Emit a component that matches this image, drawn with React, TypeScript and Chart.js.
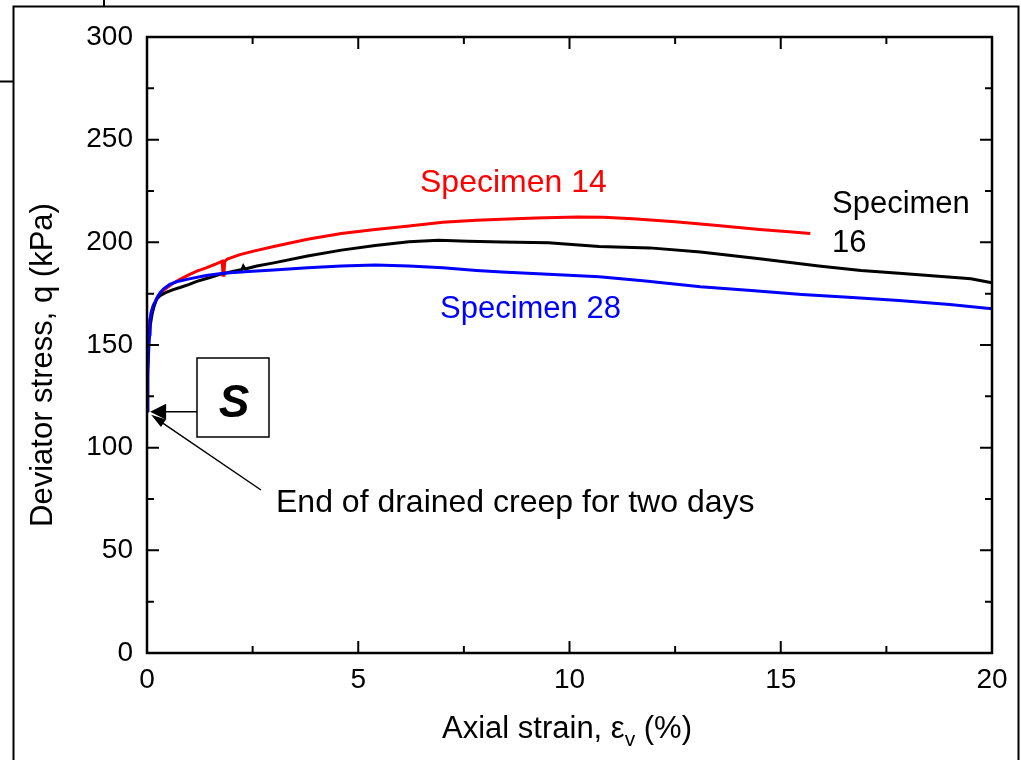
import { useEffect, useRef } from "react";
import { Chart, registerables } from "chart.js";

Chart.register(...registerables);

const FONT = '"Liberation Sans", Arial, Helvetica, sans-serif';

// Axis ticks
const strainTicks = [0, 5, 10, 15, 20];
const stressTicks = [0, 50, 100, 150, 200, 250, 300];

// Specimen 14 (red)
const spec14Strain = [
  0, 0.01, 0.02, 0.04, 0.07, 0.1, 0.15, 0.21, 0.27, 0.35, 0.47, 0.6, 0.78, 1.0, 1.18, 1.4, 1.6, 1.78,
  1.8, 1.82, 1.84, 1.9, 2.2, 2.5, 3.0, 3.8, 4.6, 5.4, 6.2, 7.0, 7.8, 8.4, 9.2, 10.2, 10.8, 11.5,
  12.5, 13.5, 14.5, 15.2, 15.7,
];
const spec14Stress = [
  118, 135, 150, 157, 162.4, 165.5, 168.9, 171.5, 173.8, 176, 177.9, 179.8, 182, 184.3, 186, 187.6,
  189.2, 190.8, 184, 184.5, 190.8, 191.8, 194, 195.6, 198, 201.5, 204.3, 206.3, 208, 209.8, 210.8,
  211.2, 211.8, 212.3, 212.2, 211.5, 210, 208.2, 206.3, 205.2, 204.3,
];

// Specimen 16 (black)
const spec16Strain = [
  0, 0.02, 0.05, 0.08, 0.12, 0.17, 0.23, 0.32, 0.47, 0.62, 0.78, 1.0, 1.18, 1.45, 1.73, 2.0, 2.25,
  2.28, 2.32, 2.6, 3.0, 3.8, 4.6, 5.4, 6.2, 6.9, 7.6, 8.4, 9.5, 10.7, 11.9, 13.1, 14.5, 15.9, 16.9,
  17.8, 18.5, 19.2, 19.5, 20,
];
const spec16Stress = [
  118, 138, 152, 160, 165, 169, 172.5, 174.2, 175.8, 177, 178, 179.5, 181, 182.6, 184.4, 185.7,
  186.8, 188.3, 187, 188.5, 190, 193.3, 196.2, 198.5, 200.3, 201, 200.5, 200.2, 199.8, 198, 197.3,
  195.3, 192, 188.5, 186.3, 184.9, 183.9, 182.8, 182.3, 180.3,
];

// Specimen 28 (blue)
const spec28Strain = [
  0, 0.01, 0.03, 0.05, 0.07, 0.1, 0.15, 0.19, 0.25, 0.31, 0.4, 0.54, 0.7, 1.0, 1.4, 1.8, 2.4, 3.0,
  3.8, 4.6, 5.4, 6.2, 7.0, 7.8, 8.4, 9.5, 10.7, 11.8, 13.1, 14.3, 15.5, 16.6, 17.8, 19.0, 20,
];
const spec28Stress = [
  118, 132, 148, 155, 162, 166, 169.5, 171, 173.5, 175.5, 177.5, 179.5, 180.8, 182.2, 183.8, 184.9,
  185.8, 186.5, 187.6, 188.5, 189, 188.5, 187.6, 186.3, 185.5, 184.5, 183.2, 181.2, 178.4, 176.5,
  174.6, 173.2, 171.7, 169.7, 167.7,
];

// End point of the two-day drained creep stage
const creepEnd = { strain: 0.05, stress: 118 };

const toPoints = (xs: number[], ys: number[]) => xs.map((x, i) => ({ x, y: ys[i] }));

function drawArrowHead(
  ctx: CanvasRenderingContext2D,
  tipX: number,
  tipY: number,
  fromX: number,
  fromY: number,
  len: number,
  half: number
) {
  const ang = Math.atan2(tipY - fromY, tipX - fromX);
  const bx = tipX - len * Math.cos(ang);
  const by = tipY - len * Math.sin(ang);
  const nx = -Math.sin(ang);
  const ny = Math.cos(ang);
  ctx.beginPath();
  ctx.moveTo(tipX, tipY);
  ctx.lineTo(bx + nx * half, by + ny * half);
  ctx.lineTo(bx - nx * half, by - ny * half);
  ctx.closePath();
  ctx.fill();
}

const decorPlugin = {
  id: "decor",
  afterDraw(chart: any) {
    const { ctx, chartArea: a, scales } = chart;
    const xs = scales.x;
    const ys = scales.y;
    ctx.save();
    ctx.strokeStyle = "#000";
    ctx.fillStyle = "#000";

    // page frame
    ctx.lineWidth = 2;
    ctx.beginPath();
    ctx.moveTo(13.5, 760);
    ctx.lineTo(13.5, 6.5);
    ctx.lineTo(1018.5, 6.5);
    ctx.lineTo(1018.5, 760);
    ctx.moveTo(104, 0);
    ctx.lineTo(104, 6.5);
    ctx.moveTo(0, 81.5);
    ctx.lineTo(13.5, 81.5);
    ctx.stroke();

    // plot box
    ctx.lineWidth = 2.5;
    ctx.strokeRect(a.left, a.top, a.right - a.left, a.bottom - a.top);

    // inward ticks on all four sides
    ctx.lineWidth = 2;
    ctx.beginPath();
    const major = 12;
    const minor = 7;
    const xv = strainTicks;
    for (let i = 0; i < xv.length; i++) {
      const p = xs.getPixelForValue(xv[i]);
      ctx.moveTo(p, a.bottom);
      ctx.lineTo(p, a.bottom - major);
      ctx.moveTo(p, a.top);
      ctx.lineTo(p, a.top + major);
      if (i < xv.length - 1) {
        const m = xs.getPixelForValue((xv[i] + xv[i + 1]) / 2);
        ctx.moveTo(m, a.bottom);
        ctx.lineTo(m, a.bottom - minor);
        ctx.moveTo(m, a.top);
        ctx.lineTo(m, a.top + minor);
      }
    }
    const yv = stressTicks;
    for (let i = 0; i < yv.length; i++) {
      const p = ys.getPixelForValue(yv[i]);
      ctx.moveTo(a.left, p);
      ctx.lineTo(a.left + major, p);
      ctx.moveTo(a.right, p);
      ctx.lineTo(a.right - major, p);
      if (i < yv.length - 1) {
        const m = ys.getPixelForValue((yv[i] + yv[i + 1]) / 2);
        ctx.moveTo(a.left, m);
        ctx.lineTo(a.left + minor, m);
        ctx.moveTo(a.right, m);
        ctx.lineTo(a.right - minor, m);
      }
    }
    ctx.stroke();

    // axis titles
    ctx.textBaseline = "alphabetic";
    const t1 = "Axial strain, ";
    const t2 = "\u03b5";
    const t3 = "v";
    const t4 = " (%)";
    ctx.font = `31px ${FONT}`;
    const w1 = ctx.measureText(t1).width;
    const w2 = ctx.measureText(t2).width;
    const w4 = ctx.measureText(t4).width;
    ctx.font = `21px ${FONT}`;
    const w3 = ctx.measureText(t3).width;
    const total = w1 + w2 + w3 + w4;
    let tx = 567 - total / 2;
    const tyBase = 738;
    ctx.textAlign = "left";
    ctx.font = `31px ${FONT}`;
    ctx.fillText(t1, tx, tyBase);
    tx += w1;
    ctx.fillText(t2, tx, tyBase);
    tx += w2;
    ctx.font = `21px ${FONT}`;
    ctx.fillText(t3, tx, tyBase + 8);
    tx += w3;
    ctx.font = `31px ${FONT}`;
    ctx.fillText(t4, tx, tyBase);

    ctx.save();
    ctx.translate(52, 365);
    ctx.rotate(-Math.PI / 2);
    ctx.textAlign = "center";
    ctx.font = `31px ${FONT}`;
    ctx.fillText("Deviator stress, q (kPa)", 0, 0);
    ctx.restore();

    // series labels
    ctx.textAlign = "left";
    ctx.font = `32px ${FONT}`;
    ctx.fillStyle = "#ff0000";
    ctx.fillText("Specimen 14", 420, 192);
    ctx.font = `31px ${FONT}`;
    ctx.fillStyle = "#0000ff";
    ctx.fillText("Specimen 28", 440, 318);
    ctx.fillStyle = "#000";
    ctx.fillText("Specimen", 832, 213);
    ctx.fillText("16", 832, 252);
    ctx.font = `32px ${FONT}`;
    ctx.fillText("End of drained creep for two days", 276, 512);

    // "S" box
    ctx.lineWidth = 1.5;
    ctx.strokeRect(197, 358, 72, 79);
    ctx.font = `italic bold 46px ${FONT}`;
    ctx.textAlign = "center";
    ctx.fillText("S", 234, 417);

    // arrows to the end of creep
    const tipX = xs.getPixelForValue(creepEnd.strain) + 1;
    const tipY = ys.getPixelForValue(creepEnd.stress) + 1;
    ctx.lineWidth = 1.5;
    ctx.beginPath();
    ctx.moveTo(197, tipY);
    ctx.lineTo(tipX + 14, tipY);
    ctx.stroke();
    drawArrowHead(ctx, tipX, tipY, 197, tipY, 16, 8);

    const dTipX = tipX + 1;
    const dTipY = tipY + 3;
    ctx.beginPath();
    ctx.moveTo(261, 490);
    ctx.lineTo(dTipX + 8, dTipY + 6);
    ctx.stroke();
    drawArrowHead(ctx, dTipX, dTipY, 261, 490, 15, 4.5);

    ctx.restore();
  },
};

export default function App() {
  const ref = useRef<HTMLCanvasElement | null>(null);

  useEffect(() => {
    if (!ref.current) return;
    const chart = new Chart(ref.current, {
      type: "scatter",
      data: {
        datasets: [
          {
            label: "Specimen 28",
            data: toPoints(spec28Strain, spec28Stress),
            borderColor: "#0000ff",
            backgroundColor: "#0000ff",
          },
          {
            label: "Specimen 16",
            data: toPoints(spec16Strain, spec16Stress),
            borderColor: "#000000",
            backgroundColor: "#000000",
          },
          {
            label: "Specimen 14",
            data: toPoints(spec14Strain, spec14Stress),
            borderColor: "#ff0000",
            backgroundColor: "#ff0000",
          },
        ],
      },
      options: {
        responsive: false,
        animation: false,
        devicePixelRatio: 1,
        showLine: true,
        elements: {
          point: { radius: 0, hoverRadius: 0 },
          line: { borderWidth: 3, tension: 0 },
        },
        layout: { padding: { left: 0, top: 37, right: 29, bottom: 0 } },
        plugins: { legend: { display: false }, tooltip: { enabled: false } },
        scales: {
          x: {
            type: "linear",
            min: 0,
            max: 20,
            afterBuildTicks: (s: any) => {
              s.ticks = strainTicks.map((v) => ({ value: v }));
            },
            afterFit: (s: any) => {
              s.height = 107;
            },
            grid: { display: false, drawTicks: false },
            border: { display: false },
            ticks: {
              color: "#000",
              padding: 10,
              maxRotation: 0,
              font: { family: FONT, size: 28 },
            },
          },
          y: {
            type: "linear",
            min: 0,
            max: 300,
            afterBuildTicks: (s: any) => {
              s.ticks = stressTicks.map((v) => ({ value: v }));
            },
            afterFit: (s: any) => {
              s.width = 147;
            },
            grid: { display: false, drawTicks: false },
            border: { display: false },
            ticks: {
              color: "#000",
              padding: 14,
              font: { family: FONT, size: 28 },
            },
          },
        },
      },
      plugins: [decorPlugin],
    } as any);
    return () => chart.destroy();
  }, []);

  return (
    <div style={{ position: "fixed", left: 0, top: 0, width: 1021, height: 760, background: "#fff" }}>
      <canvas ref={ref} width={1021} height={760} style={{ display: "block" }} />
    </div>
  );
}
